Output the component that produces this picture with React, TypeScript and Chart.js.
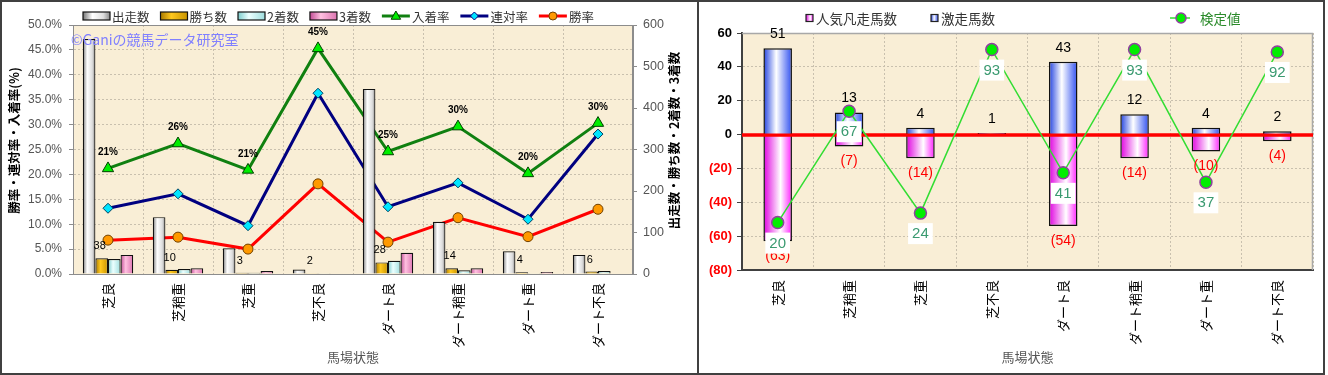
import React, { useEffect, useRef } from 'react';
import { Chart, registerables } from 'chart.js';

Chart.register(...registerables);

const JP = '"Noto Sans CJK JP", "Noto Sans", sans-serif';
const LS = '"Liberation Sans", Arial, sans-serif';

// ---------- data ----------
const categories = ['芝良', '芝稍重', '芝重', '芝不良', 'ダート良', 'ダート稍重', 'ダート重', 'ダート不良'];

// left chart (counts on right axis, rates on left axis)
const starts = [566, 137, 62, 11, 446, 126, 55, 46];
const wins = [38, 10, 3, 2, 28, 14, 4, 6];
const seconds = [36, 12, 3, 2, 32, 9, 2, 7];
const thirds = [46, 14, 7, 1, 51, 14, 5, 1];
const placeRate = [21.2, 26.2, 20.9, 45.3, 24.6, 29.6, 20.2, 30.3];
const quinellaRate = [13.2, 16.1, 9.7, 36.3, 13.5, 18.3, 11.0, 28.1];
const winRate = [6.8, 7.4, 5.0, 18.1, 6.4, 11.3, 7.5, 13.0];

// right chart
const favouriteFails = [-63, -7, -14, 0, -54, -14, -10, -4];
const longshotHits = [51, 13, 4, 1, 43, 12, 4, 2];
const testValues = [20, 67, 24, 93, 41, 93, 37, 92];

// ---------- styles ----------
const GRAD: Record<string, [number, string][]> = {
  '出走数': [[0, '#767676'], [0.35, '#ffffff'], [0.75, '#dedede'], [1, '#8a8a8a']],
  '勝ち数': [[0, '#a87a00'], [0.4, '#ffc81e'], [1, '#c89400']],
  '2着数': [[0, '#7ccccc'], [0.4, '#ecffff'], [1, '#9fdede']],
  '3着数': [[0, '#c04c94'], [0.4, '#ffc0e0'], [1, '#dc74b0']],
  '人気凡走馬数': [[0, '#e000e0'], [0.6, '#ffffff'], [1, '#ff20ff']],
  '激走馬数': [[0, '#2040e0'], [0.45, '#ffffff'], [1, '#3050f0']],
};

function makeGrad(ctx: CanvasRenderingContext2D, x0: number, x1: number, stops: [number, string][]) {
  const g = ctx.createLinearGradient(x0, 0, x1, 0);
  stops.forEach(([o, c]) => g.addColorStop(o, c));
  return g;
}

function drawMarker(ctx: CanvasRenderingContext2D, style: string, x: number, y: number, r: number, fill: string, stroke: string, lw: number) {
  ctx.save();
  ctx.beginPath();
  if (style === 'triangle') {
    ctx.moveTo(x, y - r);
    ctx.lineTo(x + r * 0.95, y + r * 0.65);
    ctx.lineTo(x - r * 0.95, y + r * 0.65);
    ctx.closePath();
  } else if (style === 'rectRot') {
    ctx.moveTo(x, y - r);
    ctx.lineTo(x + r, y);
    ctx.lineTo(x, y + r);
    ctx.lineTo(x - r, y);
    ctx.closePath();
  } else {
    ctx.arc(x, y, r, 0, Math.PI * 2);
  }
  ctx.fillStyle = fill;
  ctx.fill();
  ctx.lineWidth = lw;
  ctx.strokeStyle = stroke;
  ctx.stroke();
  ctx.restore();
}

const gradientPlugin = {
  id: 'gradBars',
  beforeDatasetsDraw(chart: any) {
    const ctx = chart.ctx;
    chart.data.datasets.forEach((ds: any, di: number) => {
      const stops = GRAD[ds.label];
      const meta = chart.getDatasetMeta(di);
      if (!stops || meta.type !== 'bar') return;
      meta.data.forEach((el: any) => {
        const p = el.getProps(['x', 'width'], true);
        const g = makeGrad(ctx, p.x - p.width / 2, p.x + p.width / 2, stops);
        el.options = Object.assign({}, el.options, { backgroundColor: g });
      });
    });
  },
};

const areaBg = {
  id: 'areaBg',
  beforeDraw(chart: any) {
    const { ctx, chartArea } = chart;
    const { left, top, right, bottom } = chartArea;
    ctx.save();
    ctx.fillStyle = '#f9eed6';
    ctx.fillRect(left, top, right - left, bottom - top);
    ctx.restore();
  },
};

// ---------- left chart ----------
const leftLegend = [
  { label: '出走数', kind: 'bar' },
  { label: '勝ち数', kind: 'bar' },
  { label: '2着数', kind: 'bar' },
  { label: '3着数', kind: 'bar' },
  { label: '入着率', kind: 'line', color: '#108010', point: 'triangle', fill: '#00ee00', stroke: '#004000' },
  { label: '連対率', kind: 'line', color: '#000080', point: 'rectRot', fill: '#00e5ff', stroke: '#000080' },
  { label: '勝率', kind: 'line', color: '#ff0000', point: 'circle', fill: '#ff9900', stroke: '#704000' },
];

const leftDecor = {
  id: 'leftDecor',
  beforeDatasetsDraw(chart: any) {
    const { ctx, chartArea } = chart;
    ctx.save();
    ctx.strokeStyle = '#8c8c8c';
    ctx.lineWidth = 1;
    ctx.strokeRect(chartArea.left + 0.5, chartArea.top + 0.5, chartArea.right - chartArea.left - 1, chartArea.bottom - chartArea.top);
    ctx.restore();
  },
  afterDatasetsDraw(chart: any) {
    const { ctx, chartArea } = chart;
    ctx.save();
    ctx.textAlign = 'center';
    ctx.textBaseline = 'middle';
    ctx.fillStyle = '#000';
    ctx.font = `bold 10px ${LS}`;
    chart.getDatasetMeta(4).data.forEach((pt: any, i: number) => {
      ctx.fillText(Math.round(placeRate[i]) + '%', pt.x, pt.y - 16);
    });
    ctx.font = `11px ${LS}`;
    chart.getDatasetMeta(1).data.forEach((b: any, i: number) => {
      ctx.fillText(String(wins[i]), b.x - 2, b.y - 12);
    });
    // watermark
    ctx.textAlign = 'left';
    ctx.fillStyle = '#8080ff';
    ctx.font = `14px ${JP}`;
    ctx.fillText('©Ganiの競馬データ研究室', chartArea.left - 2, chartArea.top + 15);
    ctx.restore();
  },
  afterDraw(chart: any) {
    const { ctx, chartArea, width } = chart;
    ctx.save();
    // axis titles (both read bottom-to-top)
    const cy = (chartArea.top + chartArea.bottom) / 2 - 9;
    ctx.fillStyle = '#000';
    ctx.textAlign = 'center';
    ctx.textBaseline = 'middle';
    ctx.font = `bold 12.5px ${JP}`;
    ctx.save();
    ctx.translate(12, cy);
    ctx.rotate(-Math.PI / 2);
    ctx.fillText('勝率・連対率・入着率(%)', 0, 0);
    ctx.restore();
    ctx.save();
    ctx.translate(width - 22, cy);
    ctx.rotate(-Math.PI / 2);
    ctx.fillText('出走数・勝ち数・2着数・3着数', 0, 0);
    ctx.restore();
    // legend
    let x = chartArea.left + 10;
    const y = 14;
    ctx.font = `12.5px ${JP}`;
    ctx.textAlign = 'left';
    leftLegend.forEach((it: any) => {
      if (it.kind === 'bar') {
        ctx.fillStyle = makeGrad(ctx, x, x + 27, GRAD[it.label]);
        ctx.fillRect(x, y - 4, 27, 8);
        ctx.strokeStyle = '#111';
        ctx.lineWidth = 1.2;
        ctx.strokeRect(x, y - 4, 27, 8);
        x += 29;
      } else {
        ctx.strokeStyle = it.color;
        ctx.lineWidth = 3;
        ctx.beginPath();
        ctx.moveTo(x, y);
        ctx.lineTo(x + 28, y);
        ctx.stroke();
        drawMarker(ctx, it.point, x + 14, y, it.point === 'triangle' ? 5 : 4, it.fill, it.stroke, 1);
        x += 30;
      }
      ctx.fillStyle = '#333';
      ctx.fillText(it.label, x, y + 1);
      x += ctx.measureText(it.label).width + 11;
    });
    ctx.restore();
  },
};

function leftConfig(): any {
  const barCommon = {
    type: 'bar',
    yAxisID: 'y1',
    borderColor: '#111',
    borderWidth: 1.2,
    categoryPercentage: 0.72,
    barPercentage: 1,
    order: 0,
  };
  return {
    type: 'bar',
    data: {
      labels: categories,
      datasets: [
        { ...barCommon, label: '出走数', data: starts, backgroundColor: '#ddd' },
        { ...barCommon, label: '勝ち数', data: wins, backgroundColor: '#ffc81e' },
        { ...barCommon, label: '2着数', data: seconds, backgroundColor: '#cff' },
        { ...barCommon, label: '3着数', data: thirds, backgroundColor: '#f9c' },
        {
          type: 'line', label: '入着率', data: placeRate, yAxisID: 'y', order: 1,
          borderColor: '#108010', borderWidth: 3, tension: 0,
          pointStyle: 'triangle', pointRadius: 6.5, pointBackgroundColor: '#00ee00', pointBorderColor: '#004000', pointBorderWidth: 1,
        },
        {
          type: 'line', label: '連対率', data: quinellaRate, yAxisID: 'y', order: 1,
          borderColor: '#000080', borderWidth: 3, tension: 0,
          pointStyle: 'rectRot', pointRadius: 5, pointBackgroundColor: '#00e5ff', pointBorderColor: '#004060', pointBorderWidth: 1,
        },
        {
          type: 'line', label: '勝率', data: winRate, yAxisID: 'y', order: 1,
          borderColor: '#ff0000', borderWidth: 3, tension: 0,
          pointStyle: 'circle', pointRadius: 5, pointBackgroundColor: '#ff9900', pointBorderColor: '#704000', pointBorderWidth: 1,
        },
      ],
    },
    options: {
      animation: false,
      responsive: false,
      events: [],
      layout: { padding: { top: 23, left: 0, right: 0, bottom: 0 } },
      plugins: { legend: { display: false }, tooltip: { enabled: false } },
      scales: {
        x: {
          afterFit: (s: any) => { s.height = 99; },
          grid: { color: '#c9c0ae', drawTicks: false, offset: true },
          border: { color: '#8c8c8c', dash: [2, 2] },
          ticks: { autoSkip: false, minRotation: 90, maxRotation: 90, padding: 9, color: '#000', font: { family: JP, size: 13 } },
          title: { display: true, text: '馬場状態', color: '#555', font: { family: JP, size: 13 }, padding: { top: 0, bottom: 8 } },
        },
        y: {
          position: 'left',
          min: 0,
          max: 50,
          afterFit: (s: any) => { s.width = 71; },
          ticks: { stepSize: 5, padding: 7, color: '#555', font: { family: LS, size: 12 }, callback: (v: any) => Number(v).toFixed(1) + '%' },
          grid: { color: '#c9c0ae', tickLength: 4, tickColor: '#8c8c8c' },
          border: { color: '#8c8c8c', dash: [2, 2] },
        },
        y1: {
          position: 'right',
          min: 0,
          max: 600,
          afterFit: (s: any) => { s.width = 63; },
          ticks: { stepSize: 100, padding: 6, color: '#555', font: { family: LS, size: 12.5 } },
          grid: { drawOnChartArea: false, tickLength: 4, tickColor: '#8c8c8c' },
          border: { color: '#8c8c8c' },
        },
      },
    },
    plugins: [areaBg, gradientPlugin, leftDecor],
  };
}

// ---------- right chart ----------
const rightDecor = {
  id: 'rightDecor',
  beforeDatasetsDraw(chart: any) {
    const { ctx, chartArea } = chart;
    ctx.save();
    ctx.strokeStyle = '#a8a8a8';
    ctx.lineWidth = 1.5;
    ctx.beginPath();
    ctx.moveTo(chartArea.left, chartArea.top + 0.5);
    ctx.lineTo(chartArea.right - 0.5, chartArea.top + 0.5);
    ctx.lineTo(chartArea.right - 0.5, chartArea.bottom);
    ctx.stroke();
    ctx.restore();
  },
  afterDatasetDraw(chart: any, args: any) {
    if (args.meta.type !== 'bar') return;
    const { ctx, chartArea } = chart;
    const y0 = chart.scales.y.getPixelForValue(0);
    ctx.save();
    ctx.strokeStyle = '#ff0000';
    ctx.lineWidth = 3;
    ctx.beginPath();
    ctx.moveTo(chartArea.left, y0 + 0.5);
    ctx.lineTo(chartArea.right, y0 + 0.5);
    ctx.stroke();
    ctx.restore();
  },
  afterDatasetsDraw(chart: any) {
    const { ctx } = chart;
    ctx.save();
    ctx.textAlign = 'center';
    ctx.textBaseline = 'middle';
    ctx.font = `14px ${LS}`;
    chart.getDatasetMeta(1).data.forEach((b: any, i: number) => {
      if (longshotHits[i] > 0) {
        ctx.fillStyle = '#000';
        ctx.fillText(String(longshotHits[i]), b.x, b.y - 14);
      }
    });
    chart.getDatasetMeta(0).data.forEach((b: any, i: number) => {
      if (favouriteFails[i] < 0) {
        ctx.fillStyle = '#ff0000';
        ctx.fillText(`(${-favouriteFails[i]})`, b.x, b.y + 15);
      }
    });
    ctx.font = `15px ${LS}`;
    chart.getDatasetMeta(2).data.forEach((p: any, i: number) => {
      const t = String(testValues[i]);
      const w = ctx.measureText(t).width + 8;
      ctx.fillStyle = '#fff';
      ctx.fillRect(p.x - w / 2, p.y + 10, w, 21);
      ctx.fillStyle = '#3a9a70';
      ctx.fillText(t, p.x, p.y + 21);
    });
    ctx.restore();
  },
  afterDraw(chart: any) {
    const { ctx, chartArea } = chart;
    const L = chartArea.left;
    const y = 16;
    ctx.save();
    ctx.textAlign = 'left';
    ctx.textBaseline = 'middle';
    ctx.font = `13.5px ${JP}`;
    const sq = (x: number, label: string) => {
      ctx.fillStyle = makeGrad(ctx, x, x + 7, GRAD[label]);
      ctx.fillRect(x, y - 3.5, 7, 7);
      ctx.strokeStyle = '#222';
      ctx.lineWidth = 1.2;
      ctx.strokeRect(x, y - 3.5, 7, 7);
      ctx.fillStyle = '#333';
      ctx.fillText(label, x + 10, y + 1);
    };
    sq(L + 64, '人気凡走馬数');
    sq(L + 189, '激走馬数');
    const lx = L + 428;
    ctx.strokeStyle = '#33dd33';
    ctx.lineWidth = 1.5;
    ctx.beginPath();
    ctx.moveTo(lx, y);
    ctx.lineTo(lx + 20, y);
    ctx.stroke();
    drawMarker(ctx, 'circle', lx + 11, y, 5, '#00ee00', '#9040a0', 1.5);
    ctx.fillStyle = '#2a8a2a';
    ctx.fillText('検定値', lx + 30, y + 1);
    ctx.restore();
  },
};

function rightConfig(): any {
  const barCommon = {
    type: 'bar',
    yAxisID: 'y',
    grouped: false,
    borderColor: '#111',
    borderWidth: 1.5,
    categoryPercentage: 1,
    barPercentage: 0.4,
  };
  return {
    type: 'bar',
    data: {
      labels: categories,
      datasets: [
        { ...barCommon, order: 2, label: '人気凡走馬数', data: favouriteFails, backgroundColor: '#f6f' },
        { ...barCommon, order: 1, label: '激走馬数', data: longshotHits, backgroundColor: '#66f' },
        {
          type: 'line', label: '検定値', data: testValues, yAxisID: 'y2', order: 0,
          borderColor: '#33dd33', borderWidth: 1.5, tension: 0,
          pointStyle: 'circle', pointRadius: 6, pointBackgroundColor: '#00ee00', pointBorderColor: '#9040a0', pointBorderWidth: 1.5,
        },
      ],
    },
    options: {
      animation: false,
      responsive: false,
      events: [],
      layout: { padding: { top: 31, left: 0, right: 10, bottom: 0 } },
      plugins: { legend: { display: false }, tooltip: { enabled: false } },
      scales: {
        x: {
          afterFit: (s: any) => { s.height = 103; },
          grid: { color: '#c9c0ae', drawTicks: false, offset: true },
          border: { color: '#404040', width: 2, dash: [2, 2] },
          ticks: { autoSkip: false, minRotation: 90, maxRotation: 90, padding: 10, color: '#000', font: { family: JP, size: 13 } },
          title: { display: true, text: '馬場状態', color: '#555', font: { family: JP, size: 13 }, padding: { top: 0, bottom: 8 } },
        },
        y: {
          position: 'left',
          min: -80,
          max: 60,
          afterFit: (s: any) => { s.width = 43; },
          ticks: {
            stepSize: 20,
            padding: 5,
            font: { family: LS, size: 13, weight: 'bold' },
            color: (c: any) => (c.tick && c.tick.value < 0 ? '#ff0000' : '#000'),
            callback: (v: any) => (v < 0 ? `(${-v})` : String(v)),
          },
          grid: { color: '#c9c0ae', tickLength: 5, tickColor: '#404040' },
          border: { color: '#404040', width: 2, dash: [2, 2] },
        },
        y2: { display: false, min: 0, max: 100 },
      },
    },
    plugins: [areaBg, gradientPlugin, rightDecor],
  };
}

function ChartCanvas({ make, left, width }: { make: () => any; left: number; width: number }) {
  const ref = useRef<HTMLCanvasElement>(null);
  useEffect(() => {
    const chart = new Chart(ref.current as HTMLCanvasElement, make());
    return () => chart.destroy();
  }, []);
  return (
    <canvas
      ref={ref}
      width={width}
      height={371}
      style={{ position: 'absolute', left, top: 2, width, height: 371 }}
    />
  );
}

export default function App() {
  return (
    <div style={{ position: 'absolute', left: 0, top: 0, width: 1328, height: 375, background: '#fff', overflow: 'hidden' }}>
      <div style={{ position: 'absolute', left: 0, top: 0, width: 699, height: 375, border: '2px solid #404040', boxSizing: 'border-box' }} />
      <div style={{ position: 'absolute', left: 697, top: 0, width: 628, height: 375, border: '2px solid #404040', boxSizing: 'border-box' }} />
      <ChartCanvas make={leftConfig} left={2} width={694} />
      <ChartCanvas make={rightConfig} left={699} width={624} />
    </div>
  );
}
